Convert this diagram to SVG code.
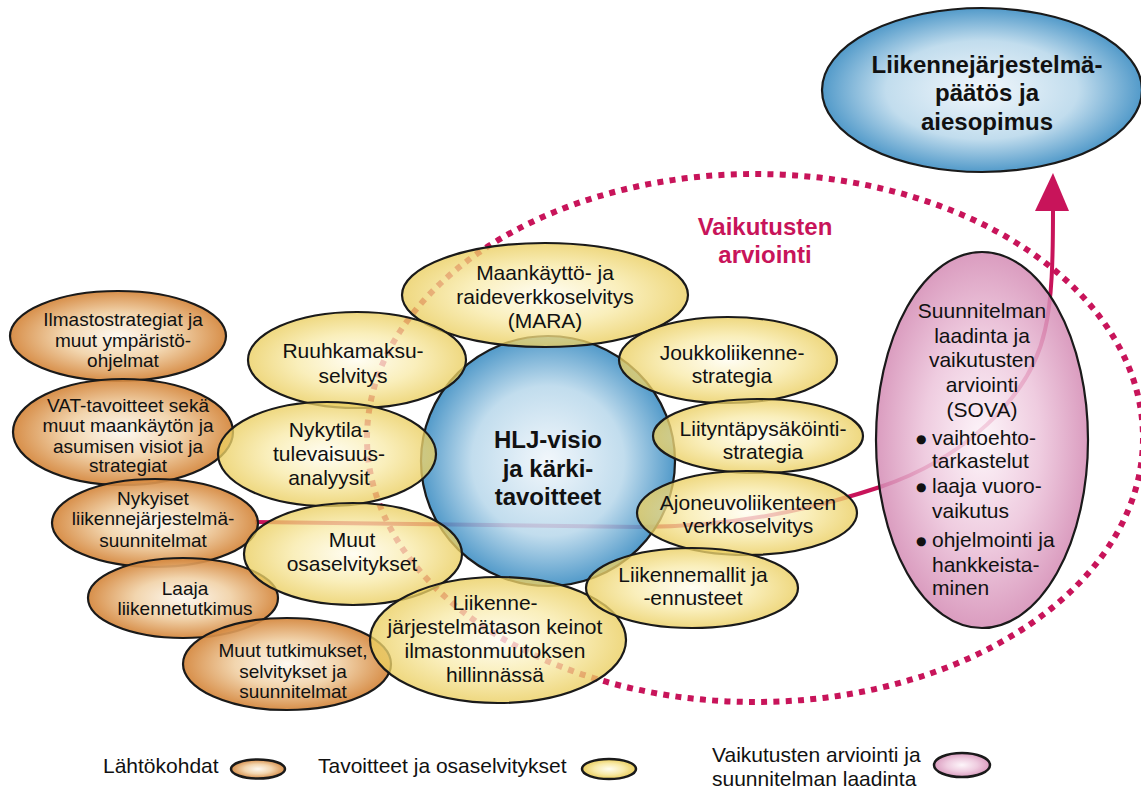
<svg xmlns="http://www.w3.org/2000/svg" width="1141" height="791" viewBox="0 0 1141 791">
<defs>
<radialGradient id="gY" cx="50%" cy="50%" r="50%"><stop offset="0" stop-color="#fffdf0"/><stop offset="0.55" stop-color="#f8eaa8"/><stop offset="1" stop-color="#eacd5c"/></radialGradient>
<radialGradient id="gO" cx="50%" cy="50%" r="50%"><stop offset="0" stop-color="#fdf8f0"/><stop offset="0.5" stop-color="#f1d2a8"/><stop offset="1" stop-color="#d4853a"/></radialGradient>
<radialGradient id="gB" cx="50%" cy="50%" r="50%"><stop offset="0" stop-color="#f0f6fb"/><stop offset="0.6" stop-color="#b9d8eb"/><stop offset="1" stop-color="#3a8cc2"/></radialGradient>
<radialGradient id="gP" cx="50%" cy="50%" r="50%"><stop offset="0" stop-color="#fdf4f9"/><stop offset="0.55" stop-color="#ecc3da"/><stop offset="1" stop-color="#d48bb4"/></radialGradient>
<style>
.o{fill:url(#gO);fill-opacity:.92;stroke:#1a1a1a;stroke-width:2.2}
.y{fill:url(#gY);fill-opacity:.78;stroke:#1a1a1a;stroke-width:2.2}
.b{fill:url(#gB);fill-opacity:.88;stroke:#1a1a1a;stroke-width:2.2}
.p{fill:url(#gP);fill-opacity:.85;stroke:#1a1a1a;stroke-width:2.2}
text{font-family:"Liberation Sans",Arial,sans-serif;fill:#111}
.t{font-size:21px;text-anchor:middle}
.ts{font-size:19px;text-anchor:middle}
.tb{font-size:24px;font-weight:bold;text-anchor:middle}
.tp{font-size:21px}
.bul{font-family:"DejaVu Sans",sans-serif;font-size:12px}
.lg{font-size:21px}
.red{fill:#c8145a;font-size:24px;font-weight:bold;text-anchor:middle}
</style>
</defs>
<rect width="1141" height="791" fill="#ffffff"/>

<g id="connectors">
<path d="M255 522 L640 527 C740 527 820 507 880 487 C960 460 1030 400 1045 330 C1052 300 1053 260 1053 210" fill="none" stroke="#c8145a" stroke-width="4"/>
<ellipse cx="755" cy="438" rx="388" ry="264" fill="none" stroke="#c8145a" stroke-width="6" stroke-dasharray="6 6.3"/>
</g>

<g id="hlj-visio">
<ellipse class="b" cx="548" cy="461" rx="127" ry="125"/>
<text class="tb"><tspan x="548" y="448">HLJ-visio</tspan><tspan x="548" y="477">ja kärki-</tspan><tspan x="548" y="505">tavoitteet</tspan></text>
</g>

<g id="ilmastostrategiat">
<ellipse class="o" cx="118" cy="336" rx="108" ry="45"/>
<text class="ts"><tspan x="123" y="326">Ilmastostrategiat ja</tspan><tspan x="123" y="347">muut ympäristö-</tspan><tspan x="123" y="367">ohjelmat</tspan></text>
</g>
<g id="vat-tavoitteet">
<ellipse class="o" cx="123" cy="432" rx="110" ry="53"/>
<text class="ts"><tspan x="128" y="412">VAT-tavoitteet sekä</tspan><tspan x="128" y="432">muut maankäytön ja</tspan><tspan x="128" y="453">asumisen visiot ja</tspan><tspan x="128" y="472">strategiat</tspan></text>
</g>
<g id="nykyiset">
<ellipse class="o" cx="155" cy="523" rx="103" ry="44"/>
<text class="ts"><tspan x="153" y="505">Nykyiset</tspan><tspan x="153" y="525">liikennejärjestelmä-</tspan><tspan x="153" y="547">suunnitelmat</tspan></text>
</g>
<g id="laaja-liikennetutkimus">
<ellipse class="o" cx="183" cy="598" rx="95" ry="40"/>
<text class="ts"><tspan x="185" y="595">Laaja</tspan><tspan x="185" y="615">liikennetutkimus</tspan></text>
</g>
<g id="muut-tutkimukset">
<ellipse class="o" cx="287" cy="664" rx="104" ry="46"/>
<text class="ts"><tspan x="293" y="657">Muut tutkimukset,</tspan><tspan x="293" y="678">selvitykset ja</tspan><tspan x="293" y="698">suunnitelmat</tspan></text>
</g>

<g id="mara">
<ellipse class="y" cx="545" cy="295" rx="143" ry="52"/>
<text class="t"><tspan x="545" y="280">Maankäyttö- ja</tspan><tspan x="545" y="304">raideverkkoselvitys</tspan><tspan x="545" y="328">(MARA)</tspan></text>
</g>
<g id="ruuhkamaksu">
<ellipse class="y" cx="357" cy="360" rx="109" ry="48"/>
<text class="t"><tspan x="353" y="358">Ruuhkamaksu-</tspan><tspan x="353" y="383">selvitys</tspan></text>
</g>
<g id="nykytila">
<ellipse class="y" cx="327" cy="454" rx="109" ry="52"/>
<text class="t"><tspan x="329" y="437">Nykytila-</tspan><tspan x="329" y="461">tulevaisuus-</tspan><tspan x="329" y="485">analyysit</tspan></text>
</g>
<g id="muut-osaselvitykset">
<ellipse class="y" cx="353" cy="554" rx="109" ry="51"/>
<text class="t"><tspan x="352" y="547">Muut</tspan><tspan x="352" y="571">osaselvitykset</tspan></text>
</g>
<g id="ilmastonmuutos">
<ellipse class="y" cx="498" cy="640" rx="128" ry="63"/>
<text class="t"><tspan x="495" y="610">Liikenne-</tspan><tspan x="495" y="634">järjestelmätason keinot</tspan><tspan x="495" y="658">ilmastonmuutoksen</tspan><tspan x="495" y="682">hillinnässä</tspan></text>
</g>
<g id="joukkoliikenne">
<ellipse class="y" cx="728" cy="360" rx="109" ry="43"/>
<text class="t"><tspan x="732" y="360">Joukkoliikenne-</tspan><tspan x="732" y="383">strategia</tspan></text>
</g>
<g id="liityntapysakointi">
<ellipse class="y" cx="758" cy="436" rx="105" ry="37"/>
<text class="t"><tspan x="763" y="436">Liityntäpysäköinti-</tspan><tspan x="763" y="459">strategia</tspan></text>
</g>
<g id="ajoneuvoliikenne">
<ellipse class="y" cx="747" cy="513" rx="110" ry="42"/>
<text class="t"><tspan x="748" y="510">Ajoneuvoliikenteen</tspan><tspan x="748" y="533">verkkoselvitys</tspan></text>
</g>
<g id="liikennemallit">
<ellipse class="y" cx="692" cy="588" rx="106" ry="40"/>
<text class="t"><tspan x="693" y="582">Liikennemallit ja</tspan><tspan x="693" y="605">-ennusteet</tspan></text>
</g>

<g id="sova">
<ellipse class="p" cx="982" cy="440" rx="106" ry="188"/>
<text class="tp" text-anchor="middle"><tspan x="982" y="318">Suunnitelman</tspan><tspan x="982" y="343">laadinta ja</tspan><tspan x="982" y="367">vaikutusten</tspan><tspan x="982" y="392">arviointi</tspan><tspan x="982" y="417">(SOVA)</tspan></text>
<text class="bul"><tspan x="916" y="443">●</tspan><tspan x="916" y="491">●</tspan><tspan x="916" y="545">●</tspan></text>
<text class="tp"><tspan x="932" y="445">vaihtoehto-</tspan><tspan x="932" y="468">tarkastelut</tspan><tspan x="932" y="493">laaja vuoro-</tspan><tspan x="932" y="518">vaikutus</tspan><tspan x="932" y="547">ohjelmointi ja</tspan><tspan x="932" y="572">hankkeista-</tspan><tspan x="932" y="595">minen</tspan></text>
</g>

<g id="paatos">
<ellipse class="b" cx="982" cy="90" rx="160" ry="82"/>
<text class="tb"><tspan x="987" y="73">Liikennejärjestelmä-</tspan><tspan x="987" y="101">päätös ja</tspan><tspan x="987" y="130">aiesopimus</tspan></text>
</g>

<g id="arrowhead">
<polygon points="1053,173 1035,211 1069,211" fill="#c8145a"/>
</g>

<g id="vaikutusten-arviointi-label">
<text class="red"><tspan x="765" y="235">Vaikutusten</tspan><tspan x="765" y="263">arviointi</tspan></text>
</g>

<g id="legend">
<text class="lg" x="103" y="773">Lähtökohdat</text>
<ellipse class="o" cx="258" cy="769" rx="27" ry="9.5" style="stroke-width:2.5"/>
<text class="lg" x="318" y="773">Tavoitteet ja osaselvitykset</text>
<ellipse class="y" cx="609" cy="769" rx="27" ry="10" style="stroke-width:2.5;fill-opacity:1"/>
<text class="lg"><tspan x="712" y="762">Vaikutusten arviointi ja</tspan><tspan x="712" y="786">suunnitelman laadinta</tspan></text>
<ellipse class="p" cx="962" cy="765" rx="28" ry="12" style="stroke-width:2.5"/>
</g>
</svg>
